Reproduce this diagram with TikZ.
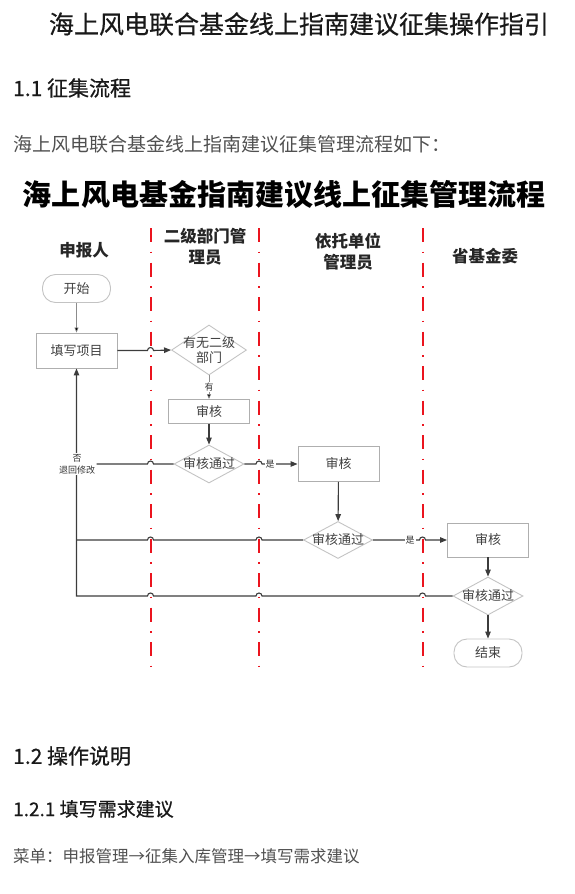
\documentclass[tikz,border=0pt]{standalone}
\usepackage{fontspec}
\setmainfont{Noto Sans CJK SC}
\newfontfamily\heimed{Noto Sans CJK SC}[FakeBold=0.6]
\usetikzlibrary{arrows.meta,shapes.geometric,calc}
\definecolor{lanered}{RGB}{235,20,30}
\definecolor{txtgray}{RGB}{80,80,80}
\definecolor{boxgray}{RGB}{175,175,175}
\definecolor{diagray}{RGB}{195,195,195}
\definecolor{linegray}{RGB}{60,60,60}
\begin{document}
\begin{tikzpicture}[x=1pt,y=-1pt,
  lane/.style={draw=lanered,line width=2pt,dash pattern=on 14pt off 9.5pt on 1.5pt off 9.5pt},
  conn/.style={draw=linegray,line width=1.1pt,-{Triangle[length=7pt,width=5.5pt]}},
  plain/.style={draw=linegray,line width=1.1pt},
  thin/.style={draw=black!45,line width=0.6pt,-{Triangle[length=5pt,width=4pt,fill=black]}},
  boxn/.style={draw=boxgray,line width=0.9pt,rectangle,minimum width=81pt,inner sep=0pt,
    text=black!75,font=\fontsize{13}{15}\selectfont},
  term/.style={draw=diagray,line width=0.9pt,rectangle,rounded corners=13pt,minimum width=68pt,
    minimum height=28pt,inner sep=0pt,text=black!75,font=\fontsize{13}{15}\selectfont},
  dec/.style={draw=diagray,line width=0.9pt,diamond,inner sep=0pt},
  dectext/.style={text=black!75,font=\fontsize{13}{15}\selectfont,align=center,inner sep=0pt},
  small/.style={fill=white,inner sep=1pt,text=black!80,font=\fontsize{9}{10}\selectfont},
  head/.style={font=\bfseries\fontsize{16.5}{21}\selectfont,align=center,text=black!85},
  doctext/.style={anchor=west,inner sep=0pt}
]
\useasboundingbox (0,0) rectangle (575,894);

% document texts
\node[inner sep=0pt,text=black!90,font=\heimed\fontsize{25}{26}\selectfont] (doctitle) at (299,24) {海上风电联合基金线上指南建议征集操作指引};
\node[doctext,text=black!90,font=\heimed\fontsize{21}{23}\selectfont] (sec11) at (13,88) {1.1\ 征集流程};
\node[doctext,text=txtgray,font=\fontsize{19}{20}\selectfont] (intro) at (13,144) {海上风电联合基金线上指南建议征集管理流程如下：};
\node[inner sep=0pt,text=black,font=\bfseries\fontsize{29}{30}\selectfont] (dtitle) at (284,195) {海上风电基金指南建议线上征集管理流程};
\node[doctext,text=black!90,font=\heimed\fontsize{21}{23}\selectfont] (sec12) at (13,756) {1.2\ 操作说明};
\node[doctext,text=black!90,font=\heimed\fontsize{19}{21}\selectfont] (sec121) at (13,809) {1.2.1\ 填写需求建议};
\node[doctext,text=txtgray,font=\fontsize{16.5}{18}\selectfont] (menu) at (13,856) {菜单：申报管理→征集入库管理→填写需求建议};

% lane headers
\node[head] (h1) at (84,250) {申报人};
\node[head] (h2) at (205,247) {二级部门管\\理员};
\node[head] (h3) at (348,252) {依托单位\\管理员};
\node[head] (h4) at (485,256) {省基金委};

% lane separators
\coordinate (L1) at (150.5,228); \coordinate (L1e) at (150.5,672);
\coordinate (L2) at (259,228);   \coordinate (L2e) at (259,672);
\coordinate (L3) at (422.5,228); \coordinate (L3e) at (422.5,672);
\draw[lane] (L1) -- (L1e);
\draw[lane] (L2) -- (L2e);
\draw[lane] (L3) -- (L3e);

% nodes
\node[term] (start) at (76.5,288.5) {开始};
\node[boxn,minimum height=35pt] (fill) at (76.5,350.5) {填写项目};
\node[dec,minimum width=75pt,minimum height=50pt] (d1) at (209,350) {};
\node[dectext] (d1t) at (d1) {有无二级\\部门};
\node[boxn,minimum height=24pt] (b2) at (209,411.5) {审核};
\node[dec,minimum width=70pt,minimum height=38pt] (d2) at (209,464) {};
\node[dectext] (d2t) at (d2) {审核通过};
\node[boxn,minimum height=35pt] (b3) at (338.5,464) {审核};
\node[dec,minimum width=69pt,minimum height=37pt] (d3) at (338,540) {};
\node[dectext] (d3t) at (d3) {审核通过};
\node[boxn,minimum height=34pt] (b4) at (488,540) {审核};
\node[dec,minimum width=70pt,minimum height=38pt] (d4) at (488,596) {};
\node[dectext] (d4t) at (d4) {审核通过};
\node[term] (end) at (488,653) {结束};

% connectors
\draw[thin] (start) -- (fill);
\draw[conn] (fill.east) -- ($(fill.east -| L1)+(-3pt,0)$) arc[start angle=180,end angle=0,radius=3pt] -- (d1.west);
\draw[thin] (d1.south) -- (b2.north) node[midway,small] (yes0) {有};
\draw[conn] (b2) -- (d2);
\draw[conn] (d2.east) -- ($(d2.east -| L2)+(-3pt,0)$) arc[start angle=180,end angle=0,radius=3pt] -- (b3.west);
\node[small] (yes1) at (270,464) {是};
\draw[conn] (b3) -- (d3);
\draw[conn] (d3.east) -- ($(d3.east -| L3)+(-3pt,0)$) arc[start angle=180,end angle=0,radius=3pt] -- (b4.west);
\node[small] (yes2) at (410,540) {是};
\draw[conn] (b4) -- (d4);
\draw[conn] (d4) -- (end);

% return paths
\draw[conn] (d4.west) -- ($(d4.west -| L3)+(3pt,0)$) arc[start angle=0,end angle=180,radius=3pt]
  -- ($(d4.west -| L2)+(3pt,0)$) arc[start angle=0,end angle=180,radius=3pt]
  -- ($(d4.west -| L1)+(3pt,0)$) arc[start angle=0,end angle=180,radius=3pt]
  -- (fill.south |- d4.west) -- (fill.south);
\draw[plain] (d3.west) -- ($(d3.west -| L2)+(3pt,0)$) arc[start angle=0,end angle=180,radius=3pt]
  -- ($(d3.west -| L1)+(3pt,0)$) arc[start angle=0,end angle=180,radius=3pt]
  -- (fill.south |- d3.west);
\node[fill=white,inner sep=1.5pt,align=center,text=black!80,font=\fontsize{9}{12}\selectfont] (back) at (77,464) {否\\退回修改};
\draw[plain] (d2.west) -- ($(d2.west -| L1)+(3pt,0)$) arc[start angle=0,end angle=180,radius=3pt] -- (back.east);
\end{tikzpicture}
\end{document}
